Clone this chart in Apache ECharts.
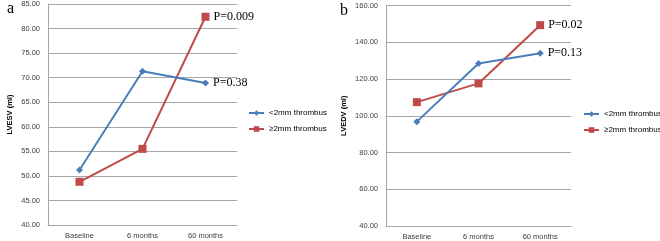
<!DOCTYPE html>
<html>
<head>
<meta charset="utf-8">
<script src="https://cdn.jsdelivr.net/npm/echarts@6/dist/echarts.min.js"></script>
<style>
  html, body { margin: 0; padding: 0; background: #fff; }
  #chart { width: 660px; height: 241px; }
</style>
</head>
<body>
<div id="chart"></div>
<script>
  // categories and values
  var categories = ['Baseline', '6 months', '60 months']
  var lvesvSmall = [51.2, 71.3, 68.9]
  var lvesvLarge = [48.8, 55.5, 82.4]
  var lvedvSmall = [96.8, 128.4, 134.0]
  var lvedvLarge = [107.4, 117.6, 149.3]
  var pLvesv = ['P=0.38', 'P=0.009']   // small, large
  var pLvedv = ['P=0.13', 'P=0.02']
  var seriesNames = ['<2mm thrombus', '≥2mm thrombus']

  var blue = '#4A7EBB'
  var red = '#BE4B48'
  var tickFont = { color: '#404040', fontSize: 7.5, fontFamily: 'Liberation Sans' }

  function yAxis(idx, name, min, max, step, gap) {
    return {
      gridIndex: idx, type: 'value', min: min, max: max, interval: step,
      name: name, nameLocation: 'middle', nameGap: gap, nameRotate: 90,
      nameTextStyle: { fontSize: 7.5, fontWeight: 'bold', color: '#000', fontFamily: 'Liberation Sans' },
      axisLine: { show: true, lineStyle: { color: '#a6a6a6', width: 1 } },
      axisTick: { show: false },
      axisLabel: Object.assign({ margin: 8, formatter: function (v) { return v.toFixed(2) } }, tickFont),
      splitLine: { lineStyle: { color: '#a6a6a6', width: 1 } }
    }
  }

  function xAxis(idx) {
    return {
      gridIndex: idx, type: 'category', data: categories,
      axisLine: { lineStyle: { color: '#a6a6a6', width: 1 } },
      axisTick: { show: false },
      axisLabel: Object.assign({ margin: 7 }, tickFont)
    }
  }

  function pLabel(text, lastIdx) {
    return {
      show: true, position: 'right', distance: 4,
      fontFamily: 'Liberation Serif', fontSize: 12, color: '#000',
      formatter: function (p) { return p.dataIndex === lastIdx ? text : '' }
    }
  }

  function lineSeries(idx, name, data, color, symbol, size, text) {
    return {
      type: 'line', name: name, xAxisIndex: idx, yAxisIndex: idx,
      data: data, symbol: symbol, symbolSize: size,
      lineStyle: { color: color, width: 2 },
      itemStyle: { color: color },
      label: pLabel(text, data.length - 1),
      emphasis: { disabled: true },
      z: name === seriesNames[0] ? 3 : 2
    }
  }

  var legendStyle = {
    orient: 'vertical', itemWidth: 15, itemHeight: 7, itemGap: 8, padding: 0,
    textStyle: { fontSize: 8, color: '#000', fontFamily: 'Liberation Sans' },
    data: seriesNames
  }

  var option = {
    animation: false,
    title: [
      { text: 'a', left: 2, top: -4, textStyle: { fontFamily: 'Liberation Serif', fontSize: 16, fontWeight: 'normal', color: '#000' } },
      { text: 'b', left: 335, top: -2, textStyle: { fontFamily: 'Liberation Serif', fontSize: 16, fontWeight: 'normal', color: '#000' } }
    ],
    grid: [
      { left: 48, top: 3.5, width: 189, height: 221.5 },
      { left: 386, top: 5.5, width: 185, height: 220.5 }
    ],
    legend: [
      Object.assign({ left: 248, top: 109 }, legendStyle),
      Object.assign({ left: 583, top: 110 }, legendStyle)
    ],
    xAxis: [xAxis(0), xAxis(1)],
    yAxis: [
      yAxis(0, 'LVESV (ml)', 40, 85, 5, 34),
      yAxis(1, 'LVEDV (ml)', 40, 160, 20, 38)
    ],
    series: [
      lineSeries(0, seriesNames[0], lvesvSmall, blue, 'diamond', 7, pLvesv[0]),
      lineSeries(0, seriesNames[1], lvesvLarge, red, 'rect', 8, pLvesv[1]),
      lineSeries(1, seriesNames[0], lvedvSmall, blue, 'diamond', 7, pLvedv[0]),
      lineSeries(1, seriesNames[1], lvedvLarge, red, 'rect', 8, pLvedv[1])
    ]
  }

  var myChart = echarts.init(document.getElementById('chart'))
  myChart.setOption(option)
</script>
</body>
</html>
